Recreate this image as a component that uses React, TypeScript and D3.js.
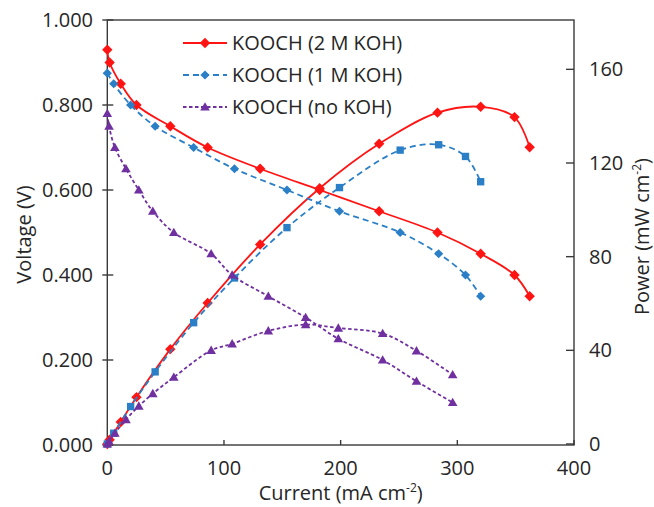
import React from 'react'
import * as d3 from 'd3'

// current (mA cm-2), voltage (V), power (mW cm-2)
const koh2Current = [0, 2, 11.5, 25, 54, 86, 131, 182, 233, 283, 320, 349, 362]
const koh2Voltage = [0.93, 0.9, 0.85, 0.8, 0.75, 0.7, 0.65, 0.6, 0.55, 0.5, 0.45, 0.4, 0.35]
const koh2Power = [0, 1.8, 9.4, 20, 40.5, 60.2, 85.2, 109.2, 128.2, 141.5, 144, 139.6, 126.7]

const koh1Current = [0, 5.5, 20, 41, 74, 109, 154, 199, 251, 284, 307, 320]
const koh1Voltage = [0.875, 0.85, 0.8, 0.75, 0.7, 0.65, 0.6, 0.55, 0.5, 0.45, 0.4, 0.35]
const koh1Power = [0, 4.6, 16, 30.8, 51.8, 70.9, 92.4, 109.5, 125.5, 127.8, 122.8, 112]

const noKohCurrent = [0, 1.5, 6.5, 16, 27, 39, 57, 89, 107, 138, 170, 198, 236, 265, 296]
const noKohVoltage = [0.78, 0.75, 0.7, 0.65, 0.6, 0.55, 0.5, 0.45, 0.4, 0.35, 0.3, 0.25, 0.2, 0.15, 0.1]
const noKohPower = [0, 1.1, 4.6, 10.4, 16.2, 21.5, 28.5, 40, 42.8, 48.3, 51, 49.5, 47.2, 39.8, 29.6]

const xTicks = [0, 100, 200, 300, 400]
const voltTicks = [0, 0.2, 0.4, 0.6, 0.8, 1.0]
const powerTicks = [0, 40, 80, 120, 160]

const font = "'Open Sans', 'Liberation Sans', sans-serif"
const fs = 20
const textColor = '#262626'
const axisColor = '#3a3a3a'

const RED = '#ff1414'
const BLUE = '#2a7fc6'
const PURPLE = '#7030a0'

type Marker = 'diamond' | 'square' | 'triangle'

const markerPath = (kind: Marker, s: number) => {
  if (kind === 'diamond') return `M0,${-s}L${s},0L0,${s}L${-s},0Z`
  if (kind === 'square') return `M${-s * 0.8},${-s * 0.8}h${s * 1.6}v${s * 1.6}h${-s * 1.6}Z`
  return `M0,${-s}L${s},${s * 0.75}L${-s},${s * 0.75}Z`
}

export default function App() {
  const width = 654
  const height = 507

  const x = d3.scaleLinear().domain([0, 400]).range([107.3, 574])
  const yV = d3.scaleLinear().domain([0, 1]).range([445, 20])
  const yP = d3.scaleLinear().domain([0, 180]).range([444, 22.5])

  const series = [
    { cur: koh2Current, val: koh2Voltage, y: yV, color: RED, dash: '', marker: 'diamond' as Marker, size: 5.2 },
    { cur: koh2Current, val: koh2Power, y: yP, color: RED, dash: '', marker: 'diamond' as Marker, size: 5.2 },
    { cur: koh1Current, val: koh1Voltage, y: yV, color: BLUE, dash: '6,4', marker: 'diamond' as Marker, size: 4.6 },
    { cur: koh1Current, val: koh1Power, y: yP, color: BLUE, dash: '6,4', marker: 'square' as Marker, size: 4.6 },
    { cur: noKohCurrent, val: noKohVoltage, y: yV, color: PURPLE, dash: '3.5,2.5', marker: 'triangle' as Marker, size: 4.8 },
    { cur: noKohCurrent, val: noKohPower, y: yP, color: PURPLE, dash: '3.5,2.5', marker: 'triangle' as Marker, size: 4.8 },
  ]

  const legend = [
    { label: 'KOOCH (2 M KOH)', color: RED, dash: '', marker: 'diamond' as Marker, size: 5.2 },
    { label: 'KOOCH (1 M KOH)', color: BLUE, dash: '6,4', marker: 'diamond' as Marker, size: 4.6 },
    { label: 'KOOCH (no KOH)', color: PURPLE, dash: '3.5,2.5', marker: 'triangle' as Marker, size: 4.8 },
  ]

  const [x0, x1] = x.range()
  const [yb, yt] = yV.range()

  return (
    <svg width={width} height={height} style={{ position: 'absolute', left: 0, top: 0, background: '#fff' }}
      fontFamily={font}>
      {/* frame */}
      <rect x={x0} y={yt} width={x1 - x0} height={yb - yt} fill="none" stroke={axisColor} strokeWidth={1.4} />

      {/* x axis */}
      {xTicks.map(t => (
        <g key={'x' + t}>
          <line x1={x(t)} x2={x(t)} y1={yb} y2={yb - 5} stroke={axisColor} strokeWidth={1.4} />
          <text x={x(t)} y={475} textAnchor="middle" fontSize={fs} fill={textColor}>{t}</text>
        </g>
      ))}
      <text x={(x0 + x1) / 2} y={500} textAnchor="middle" fontSize={fs} fill={textColor}>
        Current (mA cm<tspan dy={-8} fontSize={12}>-2</tspan><tspan dy={8}>)</tspan>
      </text>

      {/* left axis */}
      {voltTicks.map(t => (
        <g key={'v' + t}>
          <line x1={x0 - 5} x2={x0 + 6} y1={yV(t)} y2={yV(t)} stroke={axisColor} strokeWidth={1.4} />
          <text x={93} y={yV(t) + 7} textAnchor="end" fontSize={fs} fill={textColor}>{t.toFixed(3)}</text>
        </g>
      ))}
      <text transform={`translate(31,${(yb + yt) / 2 + 2}) rotate(-90)`} textAnchor="middle" fontSize={fs} fill={textColor}>
        Voltage (V)
      </text>

      {/* right axis */}
      {powerTicks.map(t => (
        <g key={'p' + t}>
          <line x1={x1 - 8} x2={x1} y1={yP(t)} y2={yP(t)} stroke={axisColor} strokeWidth={1.4} />
          <text x={589} y={yP(t) + 7} textAnchor="start" fontSize={fs} fill={textColor}>{t}</text>
        </g>
      ))}
      <text transform={`translate(649,${(yb + yt) / 2 + 4}) rotate(-90)`} textAnchor="middle" fontSize={fs} fill={textColor}>
        Power (mW cm<tspan dy={-8} fontSize={12}>-2</tspan><tspan dy={8}>)</tspan>
      </text>

      {/* series */}
      {series.map((s, i) => {
        const pts: [number, number][] = s.cur.map((c, j) => [x(c), s.y(s.val[j])])
        const line = d3.line().curve(d3.curveCatmullRom.alpha(0.5))(pts) || ''
        return (
          <g key={'s' + i}>
            <path d={line} fill="none" stroke={s.color} strokeWidth={1.8} strokeDasharray={s.dash} />
            {pts.map((p, j) => (
              <path key={j} d={markerPath(s.marker, s.size)} transform={`translate(${p[0]},${p[1]})`} fill={s.color} />
            ))}
          </g>
        )
      })}

      {/* legend */}
      {legend.map((l, i) => {
        const ly = 43 + i * 32
        return (
          <g key={'l' + i}>
            <line x1={183} x2={227} y1={ly} y2={ly} stroke={l.color} strokeWidth={1.8} strokeDasharray={l.dash} />
            <path d={markerPath(l.marker, l.size)} transform={`translate(205,${ly})`} fill={l.color} />
            <text x={232} y={ly + 7} fontSize={fs} fill={textColor}>{l.label}</text>
          </g>
        )
      })}
    </svg>
  )
}
